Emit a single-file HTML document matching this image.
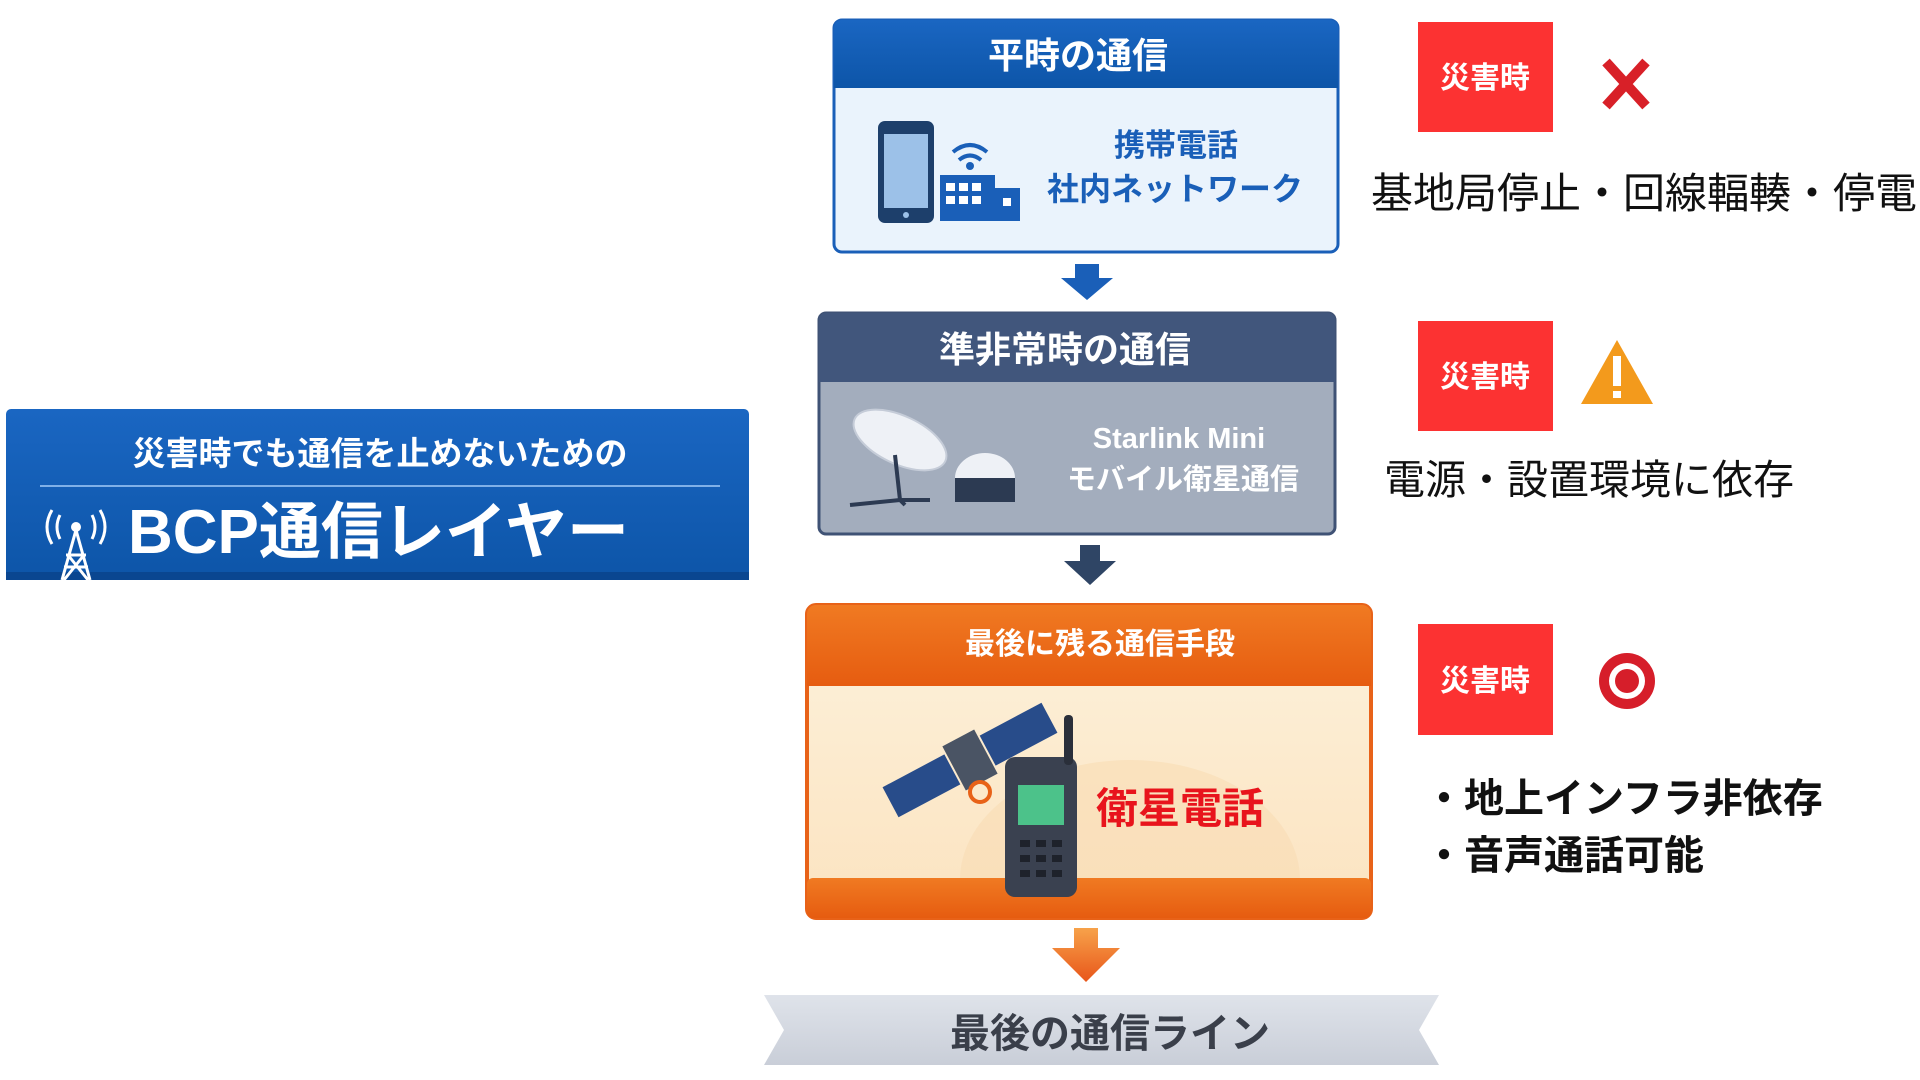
<!DOCTYPE html>
<html><head><meta charset="utf-8"><style>
html,body{margin:0;padding:0;background:#fff;width:1920px;height:1080px;overflow:hidden}
svg text{font-family:"Liberation Sans","Noto Sans CJK JP",sans-serif}
</style></head><body>
<svg width="1920" height="1080" viewBox="0 0 1920 1080" xmlns="http://www.w3.org/2000/svg">
<defs>
<linearGradient id="bl" x1="0" y1="0" x2="0" y2="1"><stop offset="0" stop-color="#1a66c2"/><stop offset="1" stop-color="#0d55a8"/></linearGradient>
<linearGradient id="og" x1="0" y1="0" x2="0" y2="1"><stop offset="0" stop-color="#f07a22"/><stop offset="1" stop-color="#e65c10"/></linearGradient>
<linearGradient id="cr" x1="0" y1="0" x2="0" y2="1"><stop offset="0" stop-color="#fdf2dc"/><stop offset="1" stop-color="#fbe3c0"/></linearGradient>
<linearGradient id="gr" x1="0" y1="0" x2="0" y2="1"><stop offset="0" stop-color="#dfe3ea"/><stop offset="1" stop-color="#c9ced8"/></linearGradient>
<linearGradient id="ar" x1="0" y1="0" x2="0" y2="1"><stop offset="0" stop-color="#f7a24a"/><stop offset="1" stop-color="#e8561a"/></linearGradient>
<clipPath id="c3"><rect x="809" y="686" width="560" height="192"/></clipPath>
</defs>

<!-- Left banner -->
<rect x="6" y="409" width="743" height="171" rx="5" fill="url(#bl)"/>
<rect x="6" y="572" width="743" height="8" fill="#0a4690"/>
<text x="380" y="465" font-size="33" font-weight="bold" fill="#fff" text-anchor="middle">災害時でも通信を止めないための</text>
<line x1="40" y1="486" x2="720" y2="486" stroke="#7fb0e8" stroke-width="2"/>
<text x="128" y="553" font-size="62" font-weight="bold" fill="#fff">BCP通信レイヤー</text>
<g stroke="#fff" stroke-width="3" fill="none">
<path d="M76 530 L62 580 M76 530 L90 580 M66 555 L86 555 M64 567 L88 567 M68 555 L88 580 M84 555 L64 580"/>
<path d="M60 515 q-6 12 0 24 M92 515 q6 12 0 24 M52 510 q-10 17 0 34 M100 510 q10 17 0 34"/>
</g>
<circle cx="76" cy="527" r="5" fill="#fff"/>

<!-- Box1 -->
<rect x="834" y="20" width="504" height="232" rx="8" fill="#eaf3fc" stroke="#1a5fb8" stroke-width="3"/>
<path d="M834 28 a8 8 0 0 1 8 -8 h488 a8 8 0 0 1 8 8 v60 h-504z" fill="url(#bl)"/>
<text x="1078" y="68" font-size="36" font-weight="bold" fill="#fff" text-anchor="middle">平時の通信</text>
<rect x="878" y="121" width="56" height="102" rx="7" fill="#1d3f6b"/>
<rect x="884" y="134" width="44" height="74" fill="#9cc1e8"/>
<circle cx="906" cy="215" r="3" fill="#9cc1e8"/>
<rect x="940" y="175" width="55" height="46" fill="#1a5fb8"/>
<rect x="995" y="188" width="25" height="33" fill="#1a5fb8"/>
<g fill="#fff"><rect x="946" y="183" width="9" height="8"/><rect x="959" y="183" width="9" height="8"/><rect x="972" y="183" width="9" height="8"/><rect x="946" y="196" width="9" height="8"/><rect x="959" y="196" width="9" height="8"/><rect x="972" y="196" width="9" height="8"/><rect x="1003" y="198" width="8" height="8"/></g>
<g stroke="#1a5fb8" stroke-width="4" fill="none"><path d="M953 152 q17 -14 34 0 M959 160 q11 -9 22 0"/></g>
<circle cx="970" cy="166" r="4" fill="#1a5fb8"/>
<text x="1176" y="156" font-size="31" font-weight="bold" fill="#1a5fb8" text-anchor="middle">携帯電話</text>
<text x="1175" y="200" font-size="32" font-weight="bold" fill="#1a5fb8" text-anchor="middle">社内ネットワーク</text>

<!-- arrow1 -->
<path d="M1075 264 h24 v14 h14 l-26 22 l-26 -22 h14z" fill="#1a5fb8"/>

<!-- Box2 -->
<rect x="819" y="313" width="516" height="221" rx="7" fill="#a3adbd" stroke="#3f5275" stroke-width="3"/>
<path d="M819 320 a7 7 0 0 1 7 -7 h502 a7 7 0 0 1 7 7 v62 h-516z" fill="#41567c"/>
<text x="1065" y="362" font-size="36" font-weight="bold" fill="#fff" text-anchor="middle">準非常時の通信</text>
<ellipse cx="900" cy="440" rx="50" ry="24" transform="rotate(25 900 440)" fill="#eef1f6" stroke="#c5ccd8" stroke-width="2"/>
<path d="M895 455 L900 500 M900 500 L850 505 M900 500 L930 500 M900 500 L905 505" stroke="#2c3a52" stroke-width="4"/>
<path d="M955 478 a30 25 0 0 1 60 0 v20 h-60z" fill="#eef1f6"/>
<rect x="955" y="478" width="60" height="24" fill="#2c3a52"/>
<text x="1179" y="448" font-size="29" font-weight="bold" fill="#fff" text-anchor="middle">Starlink Mini</text>
<text x="1183" y="489" font-size="29" font-weight="bold" fill="#fff" text-anchor="middle">モバイル衛星通信</text>

<!-- arrow2 -->
<path d="M1080 545 h20 v16 h16 l-26 24 l-26 -24 h16z" fill="#2f4565"/>

<!-- Box3 -->
<rect x="807" y="605" width="564" height="313" rx="9" fill="url(#cr)" stroke="#e86218" stroke-width="4"/>
<ellipse cx="1130" cy="880" rx="170" ry="120" fill="#f8dcb4" opacity="0.6" clip-path="url(#c3)"/>
<path d="M807 614 a9 9 0 0 1 9 -9 h546 a9 9 0 0 1 9 9 v72 h-564z" fill="url(#og)"/>
<rect x="807" y="878" width="564" height="40" rx="6" fill="url(#og)"/>
<text x="1100" y="654" font-size="30" font-weight="bold" fill="#fff" text-anchor="middle">最後に残る通信手段</text>
<g transform="rotate(-28 970 760)">
<rect x="880" y="743" width="70" height="34" fill="#284c8a"/>
<rect x="990" y="743" width="70" height="34" fill="#284c8a"/>
<rect x="952" y="735" width="36" height="50" fill="#4a5464"/>
</g>
<circle cx="980" cy="792" r="10" fill="none" stroke="#e86218" stroke-width="4"/>
<rect x="1005" y="757" width="72" height="140" rx="10" fill="#3a4150"/>
<rect x="1064" y="715" width="9" height="50" rx="4" fill="#2a2f3a"/>
<rect x="1018" y="785" width="46" height="40" fill="#4cc28a"/>
<g fill="#1e222b"><rect x="1020" y="840" width="10" height="7"/><rect x="1036" y="840" width="10" height="7"/><rect x="1052" y="840" width="10" height="7"/><rect x="1020" y="855" width="10" height="7"/><rect x="1036" y="855" width="10" height="7"/><rect x="1052" y="855" width="10" height="7"/><rect x="1020" y="870" width="10" height="7"/><rect x="1036" y="870" width="10" height="7"/><rect x="1052" y="870" width="10" height="7"/></g>
<text x="1180" y="823" font-size="42" font-weight="bold" fill="#e8141c" text-anchor="middle">衛星電話</text>

<!-- arrow3 -->
<path d="M1074 928 h24 v20 h22 l-34 34 l-34 -34 h22z" fill="url(#ar)"/>

<!-- bottom banner -->
<path d="M764 995 h675 l-20 35 l20 35 h-675 l20 -35z" fill="url(#gr)"/>
<text x="1110" y="1047" font-size="40" font-weight="bold" fill="#3a3f4a" text-anchor="middle">最後の通信ライン</text>

<!-- right side -->
<rect x="1418" y="22" width="135" height="110" fill="#fc3232"/>
<text x="1485" y="88" font-size="30" font-weight="bold" fill="#fff" text-anchor="middle">災害時</text>
<path d="M1606 62 l40 44 M1646 62 l-40 44" stroke="#d82028" stroke-width="10"/>
<text x="1371" y="208" font-size="42" fill="#111">基地局停止・回線輻輳・停電</text>

<rect x="1418" y="321" width="135" height="110" fill="#fc3232"/>
<text x="1485" y="387" font-size="30" font-weight="bold" fill="#fff" text-anchor="middle">災害時</text>
<path d="M1617 340 l36 64 h-72z" fill="#f39a1c"/>
<rect x="1613" y="356" width="8" height="30" fill="#fff"/><rect x="1613" y="391" width="8" height="7" fill="#fff"/>
<text x="1384" y="494" font-size="41" fill="#111">電源・設置環境に依存</text>

<rect x="1418" y="624" width="135" height="111" fill="#fc3232"/>
<text x="1485" y="691" font-size="30" font-weight="bold" fill="#fff" text-anchor="middle">災害時</text>
<circle cx="1627" cy="681" r="28" fill="#d61e2a"/><circle cx="1627" cy="681" r="18" fill="#fff"/><circle cx="1627" cy="681" r="12" fill="#d61e2a"/>
<text x="1424" y="812" font-size="40" font-weight="bold" fill="#111">・地上インフラ非依存</text>
<text x="1424" y="869" font-size="40" font-weight="bold" fill="#111">・音声通話可能</text>
</svg>
</body></html>
